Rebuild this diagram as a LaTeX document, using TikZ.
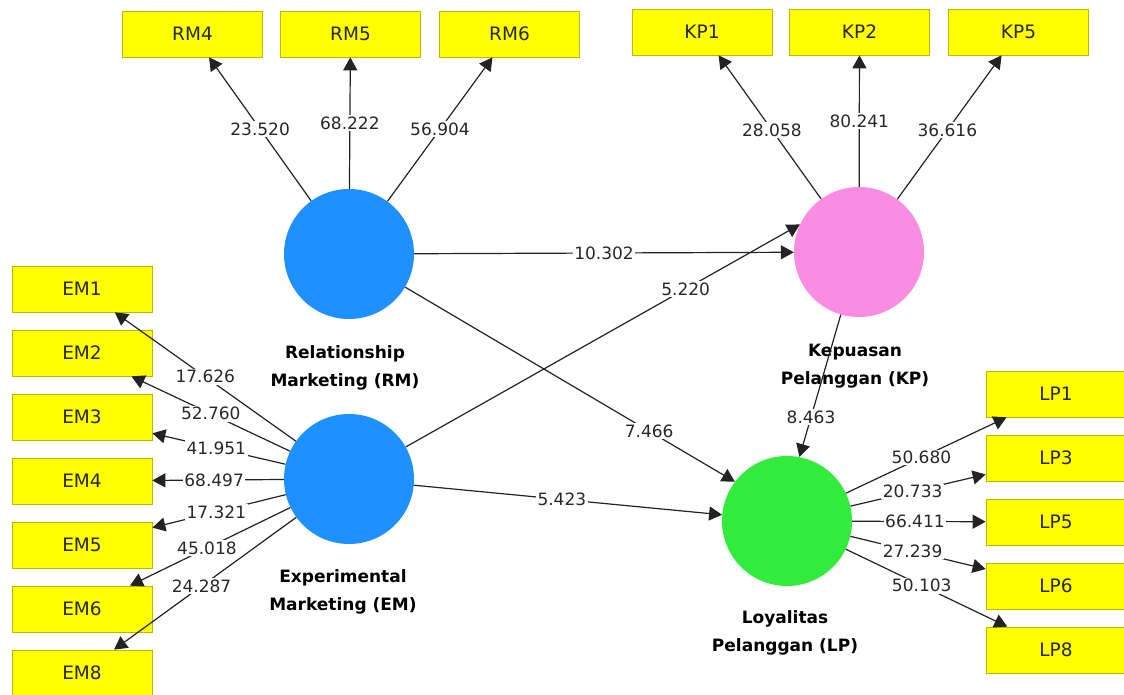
\documentclass[tikz,border=0pt]{standalone}
\usepackage{fontspec}
\setmainfont{DejaVu Sans}
\usetikzlibrary{arrows.meta}
\definecolor{cblue}{RGB}{30,144,255}
\definecolor{cpink}{RGB}{250,140,225}
\definecolor{cgreen}{RGB}{50,235,60}
\definecolor{cyel}{RGB}{255,255,0}
\definecolor{cyelb}{RGB}{185,185,0}
\definecolor{ctext}{RGB}{40,40,40}
\definecolor{cline}{RGB}{35,35,35}
\begin{document}
\begin{tikzpicture}[x=1pt,y=-1pt,
 ind/.style={rectangle, fill=cyel, draw=cyelb, line width=0.7pt, minimum width=140pt, minimum height=46pt, inner sep=0pt, font=\fontsize{18.5}{20}\selectfont, text=ctext},
 lv/.style={circle, minimum size=130pt, inner sep=0pt},
 lvname/.style={font=\bfseries\fontsize{17}{28}\selectfont, align=center, text=black},
 con/.style={line width=1.2pt, draw=cline, -{Triangle[length=13pt,width=14pt]}},
 val/.style={fill=white, inner sep=1.5pt, font=\fontsize{17}{20}\selectfont, text=ctext}]
\useasboundingbox (0,0) rectangle (1124,695);
\fill[white] (0,0) rectangle (1124,695);

% latent variables
\node[lv, fill=cblue] (RM) at (349,254) {};
\node[lv, fill=cpink] (KP) at (859,252) {};
\node[lv, fill=cblue] (EM) at (349,479) {};
\node[lv, fill=cgreen] (LP) at (787,521) {};

\node[lvname] (RMn) at (345,368) {Relationship\\Marketing (RM)};
\node[lvname] (KPn) at (855,366) {Kepuasan\\Pelanggan (KP)};
\node[lvname] (EMn) at (343,592) {Experimental\\Marketing (EM)};
\node[lvname] (LPn) at (785,633) {Loyalitas\\Pelanggan (LP)};

% indicators
\node[ind] (RM4) at (192.5,34) {RM4};
\node[ind] (RM5) at (350.5,34) {RM5};
\node[ind] (RM6) at (509.5,34) {RM6};
\node[ind] (KP1) at (702,32) {KP1};
\node[ind] (KP2) at (859.5,32) {KP2};
\node[ind] (KP5) at (1018.5,32) {KP5};

\node[ind] (EM1) at (82,289) {EM1};
\node[ind] (EM2) at (82,353) {EM2};
\node[ind] (EM3) at (82,417) {EM3};
\node[ind] (EM4) at (82,481) {EM4};
\node[ind] (EM5) at (82,545) {EM5};
\node[ind] (EM6) at (82,609) {EM6};
\node[ind] (EM8) at (82,673) {EM8};

\node[ind] (LP1) at (1056,394) {LP1};
\node[ind] (LP3) at (1056,458) {LP3};
\node[ind] (LP5) at (1056,522) {LP5};
\node[ind] (LP6) at (1056,586) {LP6};
\node[ind] (LP8) at (1056,650) {LP8};

% outer loadings
\draw[con] (RM) -- node[val,pos=0.5]{23.520} (RM4);
\draw[con] (RM) -- node[val,pos=0.5]{68.222} (RM5);
\draw[con] (RM) -- node[val,pos=0.5]{56.904} (RM6);
\draw[con] (KP) -- node[val,pos=0.48]{28.058} (KP1);
\draw[con] (KP) -- node[val,pos=0.5]{80.241} (KP2);
\draw[con] (KP) -- node[val,pos=0.48]{36.616} (KP5);

\draw[con] (EM) -- node[val,pos=0.5]{17.626} (EM1);
\draw[con] (EM) -- node[val,pos=0.5]{52.760} (EM2);
\draw[con] (EM) -- node[val,pos=0.52]{41.951} (EM3);
\draw[con] (EM) -- node[val,pos=0.53]{68.497} (EM4);
\draw[con] (EM) -- node[val,pos=0.52]{17.321} (EM5);
\draw[con] (EM) -- node[val,pos=0.52]{45.018} (EM6);
\draw[con] (EM) -- node[val,pos=0.52]{24.287} (EM8);

\draw[con] (LP) -- node[val,pos=0.47]{50.680} (LP1);
\draw[con] (LP) -- node[val,pos=0.46]{20.733} (LP3);
\draw[con] (LP) -- node[val,pos=0.47]{66.411} (LP5);
\draw[con] (LP) -- node[val,pos=0.46]{27.239} (LP6);
\draw[con] (LP) -- node[val,pos=0.47]{50.103} (LP8);

% structural paths
\draw[con] (RM) -- node[val,pos=0.5]{10.302} (KP);
\draw[con] (EM) -- node[val,pos=0.71]{5.220} (KP.155);
\draw[con] (RM) -- node[val,pos=0.74]{7.466} (LP.143);
\draw[con] (EM) -- node[val,pos=0.48]{5.423} (LP);
\draw[con] (KP) -- node[val,pos=0.72]{8.463} (LP.79);
\end{tikzpicture}
\end{document}
